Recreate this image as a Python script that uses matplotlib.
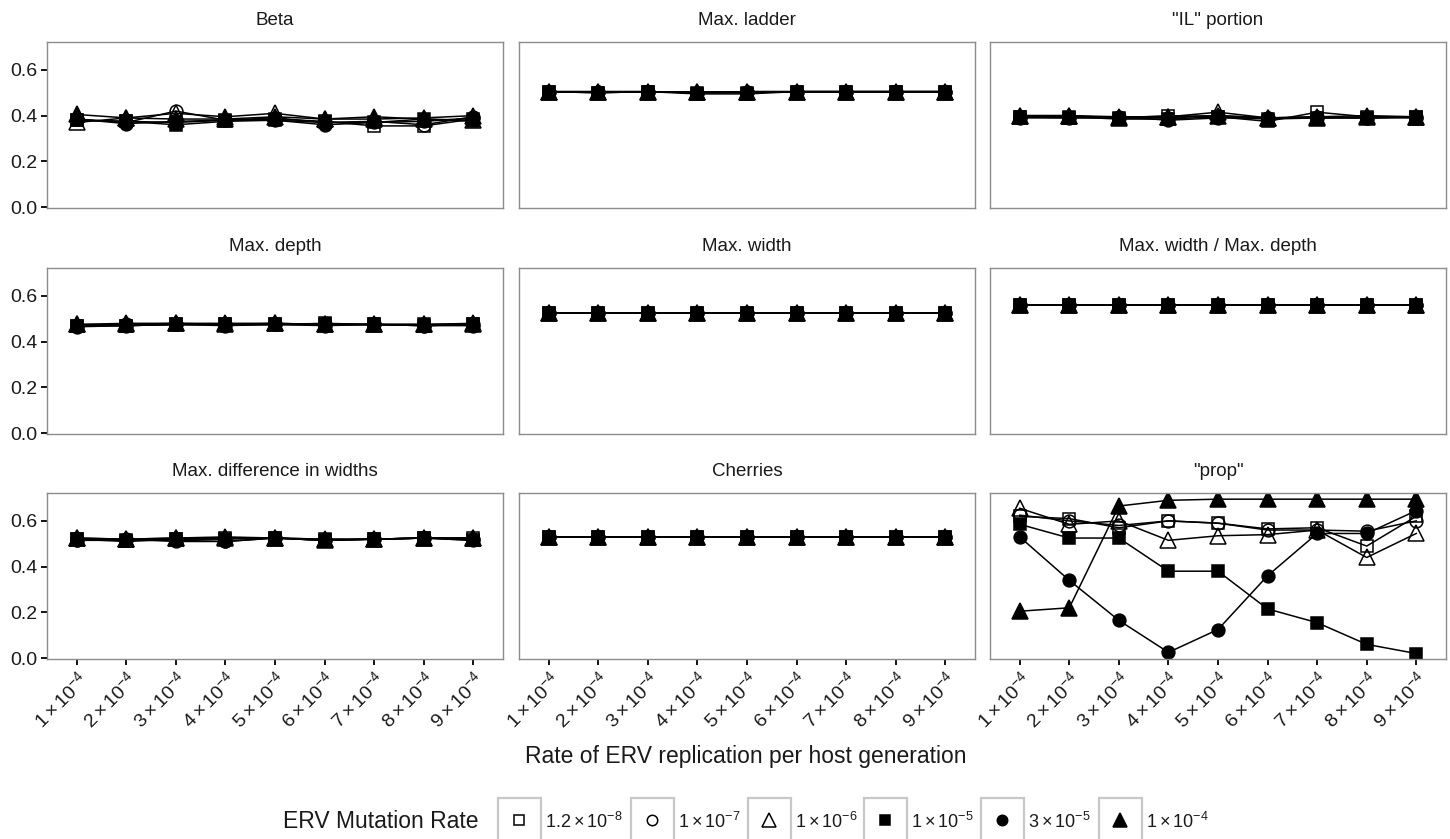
#!/usr/bin/env python3
"""Tree-shape statistics vs ERV replication rate, one panel per statistic."""
import matplotlib
matplotlib.use("Agg")
import matplotlib.pyplot as plt
from matplotlib.patches import Rectangle
from matplotlib.lines import Line2D

plt.rcParams["font.family"] = ["Liberation Sans", "DejaVu Sans"]
plt.rcParams["mathtext.fontset"] = "custom"
plt.rcParams["mathtext.rm"] = "Liberation Sans"
plt.rcParams["mathtext.it"] = "Liberation Sans:italic"
plt.rcParams["mathtext.bf"] = "Liberation Sans:bold"

# ── Data ──
rep_rates = [1, 2, 3, 4, 5, 6, 7, 8, 9]
rep_labels = [r"$%d\times10^{-4}$" % r for r in rep_rates]
mut_labels = [r"$1.2\times10^{-8}$", r"$1\times10^{-7}$", r"$1\times10^{-6}$",
              r"$1\times10^{-5}$", r"$3\times10^{-5}$", r"$1\times10^{-4}$"]
panel_titles = ["Beta", "Max. ladder", '"IL" portion',
                "Max. depth", "Max. width", "Max. width / Max. depth",
                "Max. difference in widths", "Cherries", '"prop"']

# one list per mutation rate, in the order of mut_labels
beta = [
    [0.380, 0.375, 0.370, 0.380, 0.385, 0.375, 0.355, 0.355, 0.385],
    [0.385, 0.370, 0.420, 0.380, 0.390, 0.370, 0.375, 0.360, 0.395],
    [0.370, 0.390, 0.410, 0.395, 0.410, 0.385, 0.395, 0.385, 0.380],
    [0.380, 0.375, 0.360, 0.375, 0.380, 0.370, 0.370, 0.385, 0.375],
    [0.385, 0.365, 0.375, 0.380, 0.380, 0.360, 0.370, 0.375, 0.390],
    [0.405, 0.390, 0.385, 0.385, 0.395, 0.385, 0.385, 0.390, 0.400],
]
max_ladder = [
    [0.505, 0.500, 0.505, 0.495, 0.495, 0.505, 0.505, 0.505, 0.505],
    [0.505, 0.505, 0.505, 0.500, 0.505, 0.505, 0.505, 0.505, 0.505],
    [0.505, 0.505, 0.505, 0.505, 0.505, 0.505, 0.505, 0.505, 0.505],
    [0.505, 0.500, 0.505, 0.500, 0.500, 0.505, 0.505, 0.505, 0.505],
    [0.505, 0.505, 0.505, 0.500, 0.505, 0.505, 0.505, 0.505, 0.505],
    [0.505, 0.505, 0.505, 0.505, 0.505, 0.505, 0.505, 0.505, 0.505],
]
il_portion = [
    [0.395, 0.390, 0.390, 0.400, 0.395, 0.375, 0.415, 0.395, 0.395],
    [0.395, 0.395, 0.390, 0.390, 0.400, 0.390, 0.395, 0.390, 0.395],
    [0.400, 0.400, 0.390, 0.395, 0.415, 0.390, 0.395, 0.400, 0.395],
    [0.395, 0.395, 0.385, 0.385, 0.395, 0.385, 0.390, 0.390, 0.395],
    [0.390, 0.390, 0.395, 0.380, 0.390, 0.390, 0.390, 0.390, 0.390],
    [0.400, 0.400, 0.395, 0.395, 0.400, 0.390, 0.390, 0.395, 0.395],
]
max_depth = [
    [0.470, 0.470, 0.475, 0.475, 0.475, 0.480, 0.475, 0.470, 0.475],
    [0.470, 0.475, 0.475, 0.470, 0.475, 0.475, 0.475, 0.470, 0.475],
    [0.475, 0.475, 0.480, 0.475, 0.480, 0.475, 0.475, 0.475, 0.475],
    [0.470, 0.470, 0.475, 0.475, 0.475, 0.475, 0.475, 0.475, 0.475],
    [0.465, 0.470, 0.475, 0.475, 0.475, 0.470, 0.475, 0.470, 0.470],
    [0.475, 0.480, 0.480, 0.480, 0.480, 0.475, 0.475, 0.475, 0.480],
]
max_width = [
    [0.525, 0.525, 0.525, 0.525, 0.525, 0.525, 0.525, 0.525, 0.525],
    [0.525, 0.525, 0.525, 0.525, 0.525, 0.525, 0.525, 0.525, 0.525],
    [0.525, 0.525, 0.525, 0.525, 0.525, 0.525, 0.525, 0.525, 0.525],
    [0.525, 0.525, 0.525, 0.525, 0.525, 0.525, 0.525, 0.525, 0.525],
    [0.525, 0.525, 0.525, 0.525, 0.525, 0.525, 0.525, 0.525, 0.525],
    [0.525, 0.525, 0.525, 0.525, 0.525, 0.525, 0.525, 0.525, 0.525],
]
width_depth = [
    [0.560, 0.560, 0.560, 0.560, 0.560, 0.560, 0.560, 0.560, 0.560],
    [0.560, 0.560, 0.560, 0.560, 0.560, 0.560, 0.560, 0.560, 0.560],
    [0.560, 0.560, 0.560, 0.560, 0.560, 0.560, 0.560, 0.560, 0.560],
    [0.560, 0.560, 0.560, 0.560, 0.560, 0.560, 0.560, 0.560, 0.560],
    [0.560, 0.560, 0.560, 0.560, 0.560, 0.560, 0.560, 0.560, 0.560],
    [0.560, 0.560, 0.560, 0.560, 0.560, 0.560, 0.560, 0.560, 0.560],
]
max_diff = [
    [0.520, 0.515, 0.520, 0.525, 0.525, 0.520, 0.520, 0.525, 0.525],
    [0.515, 0.520, 0.510, 0.510, 0.525, 0.515, 0.520, 0.525, 0.520],
    [0.525, 0.520, 0.525, 0.530, 0.525, 0.520, 0.520, 0.525, 0.525],
    [0.520, 0.510, 0.520, 0.520, 0.525, 0.515, 0.520, 0.525, 0.515],
    [0.515, 0.515, 0.515, 0.510, 0.525, 0.515, 0.520, 0.525, 0.515],
    [0.525, 0.520, 0.525, 0.525, 0.525, 0.515, 0.520, 0.525, 0.525],
]
cherries = [
    [0.530, 0.530, 0.530, 0.530, 0.530, 0.530, 0.530, 0.530, 0.530],
    [0.530, 0.530, 0.530, 0.530, 0.530, 0.530, 0.530, 0.530, 0.530],
    [0.530, 0.530, 0.530, 0.530, 0.530, 0.530, 0.530, 0.530, 0.530],
    [0.530, 0.530, 0.530, 0.530, 0.530, 0.530, 0.530, 0.530, 0.530],
    [0.530, 0.530, 0.530, 0.530, 0.530, 0.530, 0.530, 0.530, 0.530],
    [0.530, 0.530, 0.530, 0.530, 0.530, 0.530, 0.530, 0.530, 0.530],
]
prop = [
    [0.620, 0.610, 0.570, 0.600, 0.590, 0.565, 0.570, 0.490, 0.620],
    [0.625, 0.600, 0.580, 0.600, 0.590, 0.560, 0.560, 0.555, 0.600],
    [0.655, 0.585, 0.600, 0.515, 0.535, 0.540, 0.560, 0.440, 0.545],
    [0.585, 0.525, 0.525, 0.380, 0.380, 0.215, 0.155, 0.060, 0.020],
    [0.530, 0.340, 0.165, 0.025, 0.125, 0.360, 0.545, 0.545, 0.645],
    [0.205, 0.220, 0.665, 0.690, 0.695, 0.695, 0.695, 0.695, 0.695],
]
panel_data = [beta, max_ladder, il_portion, max_depth, max_width,
              width_depth, max_diff, cherries, prop]

# ── Styles ──
MARKERS = ["s", "o", "^", "s", "o", "^"]
FILLED = [False, False, False, True, True, True]
MSIZE = [8.0, 9.2, 12.0, 8.0, 9.2, 12.0]
C_FRAME = "#8c8c8c"
C_TEXT = "#1a1a1a"

W, H = 1450, 839
fig = plt.figure(figsize=(W / 100, H / 100), dpi=100)
fig.patch.set_facecolor("white")


def fx(px):
    return px / W


def fy(py):
    return 1 - py / H


COL_L = [47, 519, 990]
ROW_T = [42, 268, 493]
AX_W, AX_H = 456, 166

for k, (title, series) in enumerate(zip(panel_titles, panel_data)):
    r, c = divmod(k, 3)
    ax = fig.add_axes([fx(COL_L[c]), fy(ROW_T[r] + AX_H), fx(AX_W), AX_H / H])
    for s, vals in enumerate(series):
        ax.plot(rep_rates, vals, color="black", lw=1.1,
                marker=MARKERS[s], markersize=MSIZE[s],
                markerfacecolor="black" if FILLED[s] else "none",
                markeredgecolor="black", markeredgewidth=1.1)
    ax.set_xlim(0.4, 9.6)
    ax.set_ylim(-0.004, 0.722)
    ax.set_yticks([0.0, 0.2, 0.4, 0.6])
    ax.set_xticks(rep_rates)
    for sp in ax.spines.values():
        sp.set_color(C_FRAME)
        sp.set_linewidth(1.0)
    ax.set_title(title, fontsize=13.5, color=C_TEXT, pad=12)
    ax.tick_params(length=4, width=1.3, color="black", labelsize=14,
                   labelcolor=C_TEXT, pad=3)
    if c == 0:
        ax.set_yticklabels(["0.0", "0.2", "0.4", "0.6"])
    else:
        ax.tick_params(axis="y", left=False, labelleft=False)
    if r == 2:
        ax.set_xticklabels(rep_labels, rotation=45, ha="right",
                           rotation_mode="anchor", fontsize=14)
    else:
        ax.tick_params(axis="x", bottom=False, labelbottom=False)

fig.text(fx(746), fy(756), "Rate of ERV replication per host generation",
         ha="center", va="center", fontsize=16.5, color=C_TEXT)

# ── Legend ──
fig.text(fx(283), fy(822), "ERV Mutation Rate", ha="left", va="center",
         fontsize=16.5, color=C_TEXT)
key_x = [519, 652, 769, 885, 1002, 1120]
LEG_MS = [7.0, 7.5, 10.0, 7.0, 7.5, 10.0]
for s, (kx, lbl) in enumerate(zip(key_x, mut_labels)):
    fig.add_artist(Rectangle((fx(kx - 21.5), fy(845)), fx(43), 47 / H,
                             transform=fig.transFigure, facecolor="white",
                             edgecolor="#c8c8c8", linewidth=1.6))
    fig.add_artist(Line2D([fx(kx)], [fy(820)], transform=fig.transFigure,
                          marker=MARKERS[s], markersize=LEG_MS[s],
                          markerfacecolor="black" if FILLED[s] else "none",
                          markeredgecolor="black", markeredgewidth=1.1,
                          linestyle="none"))
    fig.text(fx(kx + 26), fy(822), lbl, ha="left", va="center",
             fontsize=13, color=C_TEXT)

fig.savefig("out.png", dpi=100, facecolor="white")
